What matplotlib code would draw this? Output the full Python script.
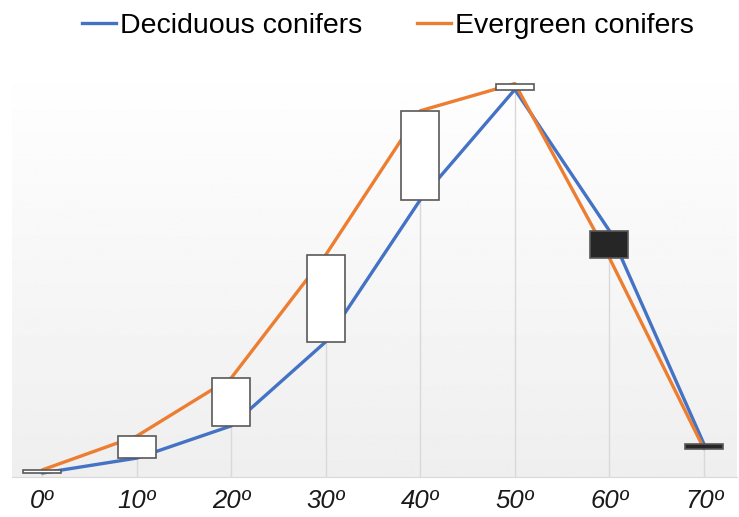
import numpy as np
import matplotlib
matplotlib.use("Agg")
import matplotlib.pyplot as plt
from matplotlib.lines import Line2D

# ---- data -----------------------------------------------------------------
categories = ["0º", "10º", "20º", "30º", "40º", "50º", "60º", "70º"]
deciduous = [1.0, 4.8, 13.0, 34.4, 70.5, 98.5, 62.6, 8.4]
evergreen = [1.8, 10.4, 25.2, 56.5, 93.1, 100.0, 55.7, 7.2]

BLUE = "#4472C4"
ORANGE = "#ED7D31"

plt.rcParams["font.family"] = ["Liberation Sans", "DejaVu Sans"]

fig = plt.figure(figsize=(7.39, 5.17), dpi=100)
ax = fig.add_axes([12 / 739, 40 / 517, 725 / 739, 417 / 517])

x = np.arange(len(categories))
dec = np.array(deciduous)
evg = np.array(evergreen)

ax.set_xlim(-0.32, 7.35)
ax.set_ylim(0, 106)

# light vertical gradient background
grad = np.linspace(0.935, 1.0, 256).reshape(-1, 1)
ax.imshow(grad, cmap="gray", vmin=0, vmax=1, aspect="auto",
          extent=(-0.32, 7.35, 0, 106), origin="lower", zorder=0)

# drop lines
ax.vlines(x, 0, np.maximum(dec, evg), color="#d9d9d9", lw=1, zorder=1)

ax.plot(x, dec, color=BLUE, lw=2.4, zorder=2, solid_capstyle="round")
ax.plot(x, evg, color=ORANGE, lw=2.4, zorder=2, solid_capstyle="round")

# up / down bars
w = 0.4
for xi, a, b in zip(x, dec, evg):
    lo, hi = min(a, b), max(a, b)
    fc = "white" if b >= a else "#262626"
    ax.add_patch(plt.Rectangle((xi - w / 2, lo), w, max(hi - lo, 0.6),
                               facecolor=fc, edgecolor="#595959", lw=1.2, zorder=3))

for s in ["top", "right", "left"]:
    ax.spines[s].set_visible(False)
ax.spines["bottom"].set_color("#d9d9d9")
ax.set_yticks([])
ax.set_xticks(x)
ax.set_xticklabels(categories, fontsize=18.5, style="italic", color="#1a1a1a")
ax.tick_params(axis="x", length=0, pad=9)

handles = [Line2D([0], [0], color=BLUE, lw=2.4),
           Line2D([0], [0], color=ORANGE, lw=2.4)]
fig.legend(handles, ["Deciduous conifers", "Evergreen conifers"],
           loc="upper center", bbox_to_anchor=(0.525, 1.025), ncol=2, frameon=False,
           fontsize=20.5, handlelength=1.2, handletextpad=0.15, columnspacing=1.9)

fig.savefig("out.png", dpi=100)
